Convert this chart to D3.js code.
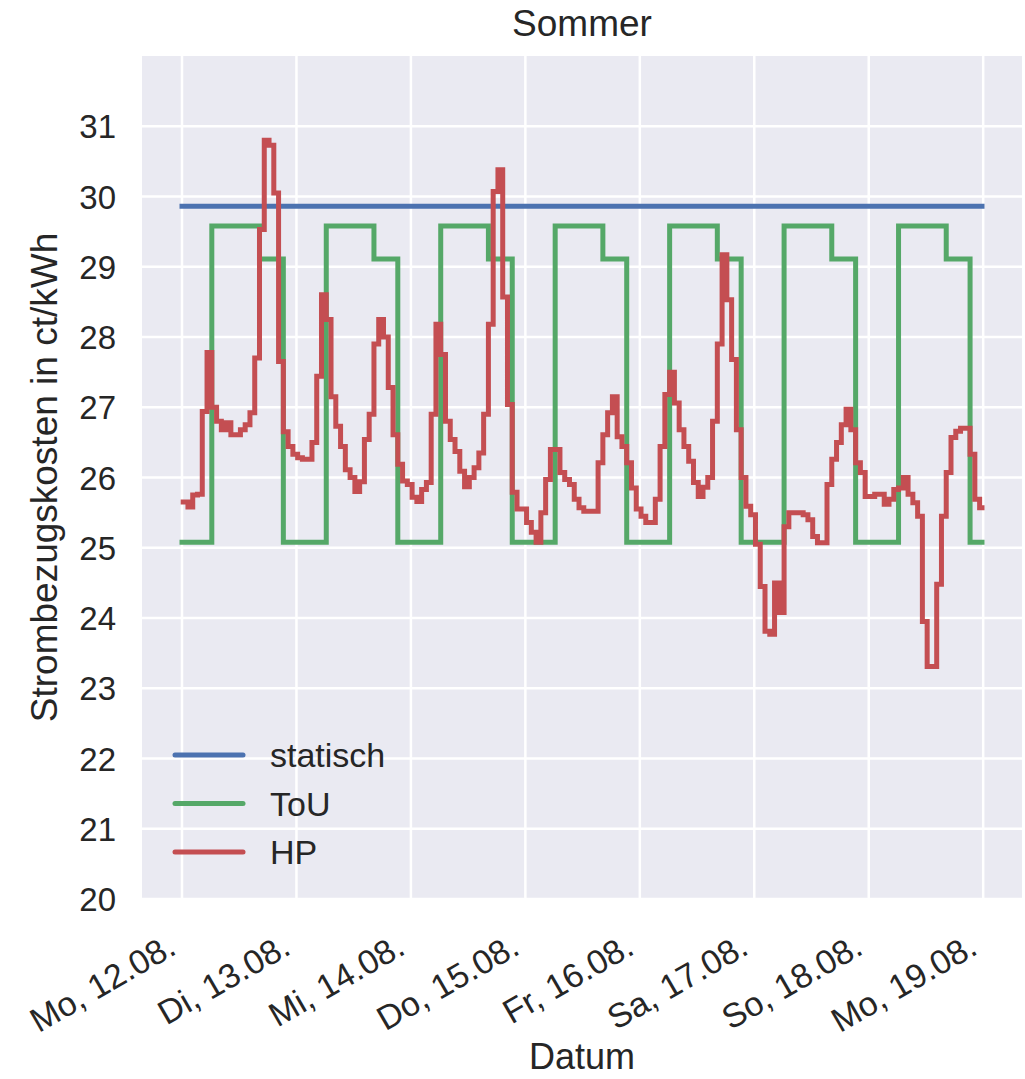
<!DOCTYPE html>
<html>
<head>
<meta charset="utf-8">
<script src="https://cdn.jsdelivr.net/npm/d3@7"></script>
<style>
  body { margin: 0; background: #ffffff; }
  text { font-family: "Liberation Sans", Arial, sans-serif; fill: #262626; }
</style>
</head>
<body>
<div id="chart"></div>
<script>
// day labels on the x axis (midnight of each day)
const dayLabels = ["Mo, 12.08.", "Di, 13.08.", "Mi, 14.08.", "Do, 15.08.",
                   "Fr, 16.08.", "Sa, 17.08.", "So, 18.08.", "Mo, 19.08."];
const yTicks = [20, 21, 22, 23, 24, 25, 26, 27, 28, 29, 30, 31];
const seriesNames = ["statisch", "ToU", "HP"];

// static tariff (ct/kWh)
const staticPrice = 29.86;

// time-of-use tariff: start hour of each period within a day, and its price
const touStart = [0, 6.25, 16.25, 21.25];
const touPrice = [25.08, 29.58, 29.11, 25.08];

// HP tariff, hourly values per day (ct/kWh)
const hpMo12 = [25.65, 25.58, 25.75, 25.76, 26.94, 27.78, 27.0, 26.8, 26.68, 26.78, 26.61, 26.61,
                26.68, 26.75, 26.92, 27.7, 29.53, 30.8, 30.73, 30.05, 27.65, 26.65, 26.44, 26.33];
const hpDi13 = [26.28, 26.26, 26.26, 26.5, 27.44, 28.6, 28.25, 27.15, 26.73, 26.44, 26.11, 26.0,
                25.8, 25.94, 26.54, 26.9, 27.9, 28.25, 28.0, 27.28, 26.61, 26.19, 25.95, 25.9];
const hpMi14 = [25.72, 25.66, 25.83, 25.93, 26.9, 28.18, 27.75, 26.8, 26.54, 26.37, 26.09, 25.87,
                26.0, 26.14, 26.35, 26.9, 28.18, 30.07, 30.38, 28.57, 27.04, 25.79, 25.55, 25.55];
const hpDo15 = [25.36, 25.22, 25.08, 25.5, 25.97, 26.4, 26.4, 26.07, 25.97, 25.9, 25.69, 25.57,
                25.52, 25.52, 25.52, 26.21, 26.61, 26.92, 27.15, 26.58, 26.44, 26.21, 25.85, 25.55];
const hpFr16 = [25.45, 25.36, 25.36, 25.69, 26.44, 27.18, 27.5, 27.06, 26.68, 26.44, 26.23, 25.93,
                25.73, 25.86, 26.0, 26.8, 27.9, 29.17, 28.53, 27.68, 26.68, 26.0, 25.59, 25.47];
const hpSa17 = [25.05, 24.45, 23.81, 23.77, 24.5, 24.08, 25.3, 25.5, 25.5, 25.5, 25.47, 25.4,
                25.16, 25.07, 25.07, 25.9, 26.26, 26.5, 26.75, 26.97, 26.68, 26.21, 26.07, 25.73];
const hpSo18 = [25.73, 25.76, 25.76, 25.62, 25.69, 25.83, 25.85, 26.0, 25.76, 25.64, 25.45, 23.95,
                23.31, 23.31, 24.48, 25.45, 26.07, 26.57, 26.66, 26.7, 26.7, 26.33, 25.69, 25.57];
const hpDays = [hpMo12, hpDi13, hpMi14, hpDo15, hpFr16, hpSa17, hpSo18];

const colors = { statisch: "#4C72B0", ToU: "#55A868", HP: "#C44E52" };

// hourly HP values are stamped a quarter past the hour; last stamp 23:45 on Sunday
const hpOffset = 0.25;
const endHour = 7 * 24 - 0.25;

const width = 1025, height = 1079;
const margin = { top: 56, right: 3, bottom: 180, left: 142 };
const plotW = width - margin.left - margin.right;
const plotH = height - margin.top - margin.bottom;

const svg = d3.select("#chart").append("svg")
  .attr("width", width)
  .attr("height", height);

// matplotlib-style 5% margin on the time axis
const pad = endHour * 0.05;
const x = d3.scaleLinear().domain([-pad, endHour + pad]).range([margin.left, margin.left + plotW]);
const y = d3.scaleLinear().domain([20, 32]).range([margin.top + plotH, margin.top]);

// background + grid (seaborn darkgrid)
svg.append("rect")
  .attr("x", margin.left).attr("y", margin.top)
  .attr("width", plotW).attr("height", plotH)
  .attr("fill", "#EAEAF2");

svg.append("g").selectAll("line")
  .data(yTicks)
  .join("line")
  .attr("x1", margin.left).attr("x2", margin.left + plotW)
  .attr("y1", d => y(d)).attr("y2", d => y(d))
  .attr("stroke", "#ffffff").attr("stroke-width", 2.5);

svg.append("g").selectAll("line")
  .data(dayLabels)
  .join("line")
  .attr("x1", (d, i) => x(i * 24)).attr("x2", (d, i) => x(i * 24))
  .attr("y1", margin.top).attr("y2", margin.top + plotH)
  .attr("stroke", "#ffffff").attr("stroke-width", 2.5);

// tick labels
svg.append("g").selectAll("text")
  .data(yTicks)
  .join("text")
  .attr("x", 116)
  .attr("y", d => y(d) + 12)
  .attr("text-anchor", "end")
  .style("font-size", "33px")
  .text(d => d);

svg.append("g").selectAll("text")
  .data(dayLabels)
  .join("text")
  .attr("transform", (d, i) => `translate(${x(i * 24) - 4}, 953) rotate(-30)`)
  .attr("text-anchor", "end")
  .style("font-size", "34px")
  .text(d => d);

// axis labels and title
svg.append("text")
  .attr("x", margin.left + plotW / 2).attr("y", 36)
  .attr("text-anchor", "middle")
  .style("font-size", "37px")
  .text("Sommer");

svg.append("text")
  .attr("x", margin.left + plotW / 2).attr("y", 1069)
  .attr("text-anchor", "middle")
  .style("font-size", "36px")
  .text("Datum");

svg.append("text")
  .attr("transform", `translate(57, ${margin.top + plotH / 2}) rotate(-90)`)
  .attr("text-anchor", "middle")
  .style("font-size", "37px")
  .text("Strombezugskosten in ct/kWh");

// build series
const staticData = [{ t: 0, v: staticPrice }, { t: endHour, v: staticPrice }];

const touData = [];
dayLabels.slice(0, 7).forEach((d, day) => {
  touStart.forEach((h, i) => touData.push({ t: day * 24 + h, v: touPrice[i] }));
});
touData.push({ t: endHour, v: touPrice[touPrice.length - 1] });

const hpData = [];
hpDays.forEach((vals, day) => {
  vals.forEach((v, h) => hpData.push({ t: day * 24 + h + hpOffset, v: v }));
});
hpData.push({ t: endHour, v: hpData[hpData.length - 1].v });

const line = d3.line()
  .x(d => x(d.t))
  .y(d => y(d.v))
  .curve(d3.curveStepAfter);

[[staticData, "statisch"], [touData, "ToU"], [hpData, "HP"]].forEach(([data, name]) => {
  svg.append("path")
    .datum(data)
    .attr("d", line)
    .attr("fill", "none")
    .attr("stroke", colors[name])
    .attr("stroke-width", 5)
    .attr("stroke-linejoin", "miter")
    .attr("stroke-linecap", "square");
});

// legend (no frame)
const legend = svg.append("g").selectAll("g")
  .data(seriesNames)
  .join("g")
  .attr("transform", (d, i) => `translate(0, ${755 + i * 48.5})`);

legend.append("line")
  .attr("x1", 175).attr("x2", 243)
  .attr("stroke", d => colors[d])
  .attr("stroke-width", 5)
  .attr("stroke-linecap", "round");

legend.append("text")
  .attr("x", 270).attr("y", 12)
  .style("font-size", "34px")
  .text(d => d);
</script>
</body>
</html>
